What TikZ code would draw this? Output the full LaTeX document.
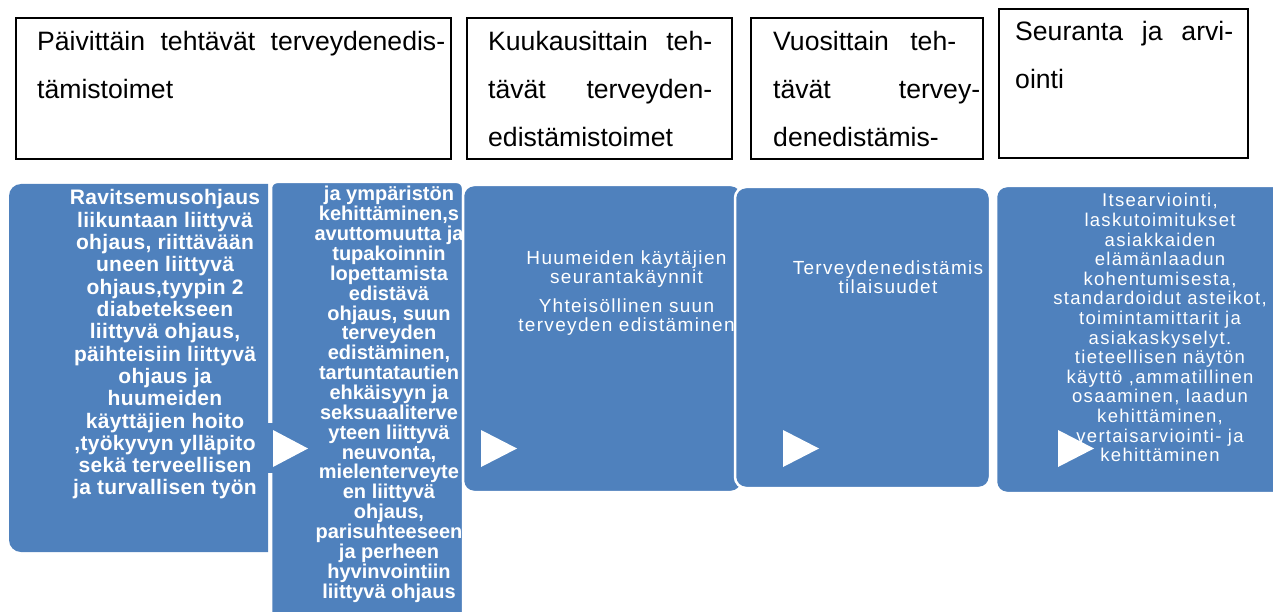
\documentclass[tikz,border=0pt]{standalone}
\usepackage{fontspec}
\setmainfont{Liberation Sans}
\newfontfamily\lsp[LetterSpace=7]{Liberation Sans}
\newfontfamily\lspb[LetterSpace=1.5]{Liberation Sans}
\definecolor{sablue}{HTML}{4F81BD}
\tikzset{
  topbox/.style={draw=black, line width=1.3pt, fill=white, inner sep=0},
  toptext/.style={anchor=base west, inner sep=0, font=\fontsize{26.6}{26.6}\selectfont},
  bluebox/.style={fill=sablue, draw=white, line width=2.5pt, rounded corners=11pt, inner sep=0},
  bluepath/.style={fill=sablue, draw=white, line width=2.5pt},
  bluetext/.style={anchor=base, inner sep=0, text=white},
  playtri/.style={fill=white}
}
\begin{document}
\begin{tikzpicture}[x=1pt,y=-1pt]
\useasboundingbox (0,0) rectangle (1273,612);

% top boxes
\node[topbox, minimum width=435, minimum height=141] (b1) at (233.5,88.5) {};
\node[topbox, minimum width=265, minimum height=141] (b2) at (599.5,88.5) {};
\node[topbox, minimum width=232, minimum height=141] (b3) at (867,88.5) {};
\node[topbox, minimum width=249, minimum height=149] (b4) at (1123.5,83.5) {};

\node[toptext] (b1a) at (37,50.5) {\makebox[408pt][s]{Päivittäin tehtävät terveydenedis-}};
\node[toptext] (b1b) at (37,98.5) {tämistoimet};
\node[toptext] (b2a) at (488,50.5) {\makebox[224pt][s]{Kuukausittain teh-}};
\node[toptext] (b2b) at (488,98.5) {\makebox[224pt][s]{tävät terveyden-}};
\node[toptext] (b2c) at (488,146.5) {edistämistoimet};
\node[toptext] (b3a) at (773,50.5) {\makebox[183pt][s]{Vuosittain teh-}};
\node[toptext] (b3b) at (773,98.5) {\makebox[207pt][s]{tävät tervey-}};
\node[toptext] (b3c) at (773,146.5) {denedistämis-};
\node[toptext] (b4a) at (1015,41) {\makebox[218pt][s]{Seuranta ja arvi-}};
\node[toptext] (b4b) at (1015,89) {ointi};

% shape 1
\fill[sablue] (268,184) -- (268,552) -- (21,552) arc[start angle=90, end angle=180, radius=12]
  -- (9,196) arc[start angle=180, end angle=270, radius=12] -- cycle;
\node[bluetext, font=\lspb\bfseries\fontsize{21}{22.3}\selectfont] (s1t) at (165,205)
  {\parbox[t]{280pt}{\centering Ravitsemusohjaus\\liikuntaan liittyvä\\ohjaus, riittävään\\uneen liittyvä\\ohjaus,tyypin 2\\diabetekseen\\liittyvä ohjaus,\\päihteisiin liittyvä\\ohjaus ja\\huumeiden\\käyttäjien hoito\\,työkyvyn ylläpito\\sekä terveellisen\\ja turvallisen työn}};

% shape 2
\path[bluepath] (271,615) -- (271,188) arc[start angle=180, end angle=270, radius=6]
  -- (457,182) arc[start angle=270, end angle=360, radius=6] -- (463,615) -- cycle;
\node[bluetext, font=\bfseries\fontsize{20}{19.85}\selectfont] (s2t) at (389,201)
  {\parbox[t]{220pt}{\centering ja ympäristön\\kehittäminen,s\\avuttomuutta ja\\tupakoinnin\\lopettamista\\edistävä\\ohjaus, suun\\terveyden\\edistäminen,\\tartuntatautien\\ehkäisyyn ja\\seksuaaliterve\\yteen liittyvä\\neuvonta,\\mielenterveyte\\en liittyvä\\ohjaus,\\parisuhteeseen\\ja perheen\\hyvinvointiin\\liittyvä ohjaus}};
\fill[sablue] (267,423) rectangle (276,473);
\fill[playtri] (273,430) -- (308,448.5) -- (273,467) -- cycle;

% shape 3
\node[bluebox, minimum width=279, minimum height=307] (s3) at (602.5,338.5) {};
\node[bluetext, font=\lsp\fontsize{19}{19}\selectfont] (s3t) at (626.5,265)
  {\parbox[t]{260pt}{\centering Huumeiden käytäjien\\seurantakäynnit\\[9.7pt]Yhteisöllinen suun\\terveyden edistäminen}};
\fill[playtri] (481,430) -- (517,448.5) -- (481,467) -- cycle;

% shape 4
\node[bluebox, minimum width=255, minimum height=301] (s4) at (862.5,337.5) {};
\node[bluetext, font=\lsp\fontsize{19}{19}\selectfont] (s4t) at (888,274)
  {\parbox[t]{240pt}{\centering Terveydenedistämis\\tilaisuudet}};
\fill[playtri] (783,430) -- (819,448.5) -- (783,467) -- cycle;

% shape 5
\node[bluebox, minimum width=294, minimum height=307] (s5) at (1143,339.5) {};
\node[bluetext, font=\lsp\fontsize{18.5}{19.6}\selectfont] (s5t) at (1160,207)
  {\parbox[t]{260pt}{\centering Itsearviointi,\\laskutoimitukset\\asiakkaiden\\elämänlaadun\\kohentumisesta,\\standardoidut asteikot,\\toimintamittarit ja\\asiakaskyselyt.\\tieteellisen näytön\\käyttö ,ammatillinen\\osaaminen, laadun\\kehittäminen,\\vertaisarviointi- ja\\kehittäminen}};
\fill[playtri] (1058,430) -- (1094,448.5) -- (1058,467) -- cycle;
\end{tikzpicture}
\end{document}
